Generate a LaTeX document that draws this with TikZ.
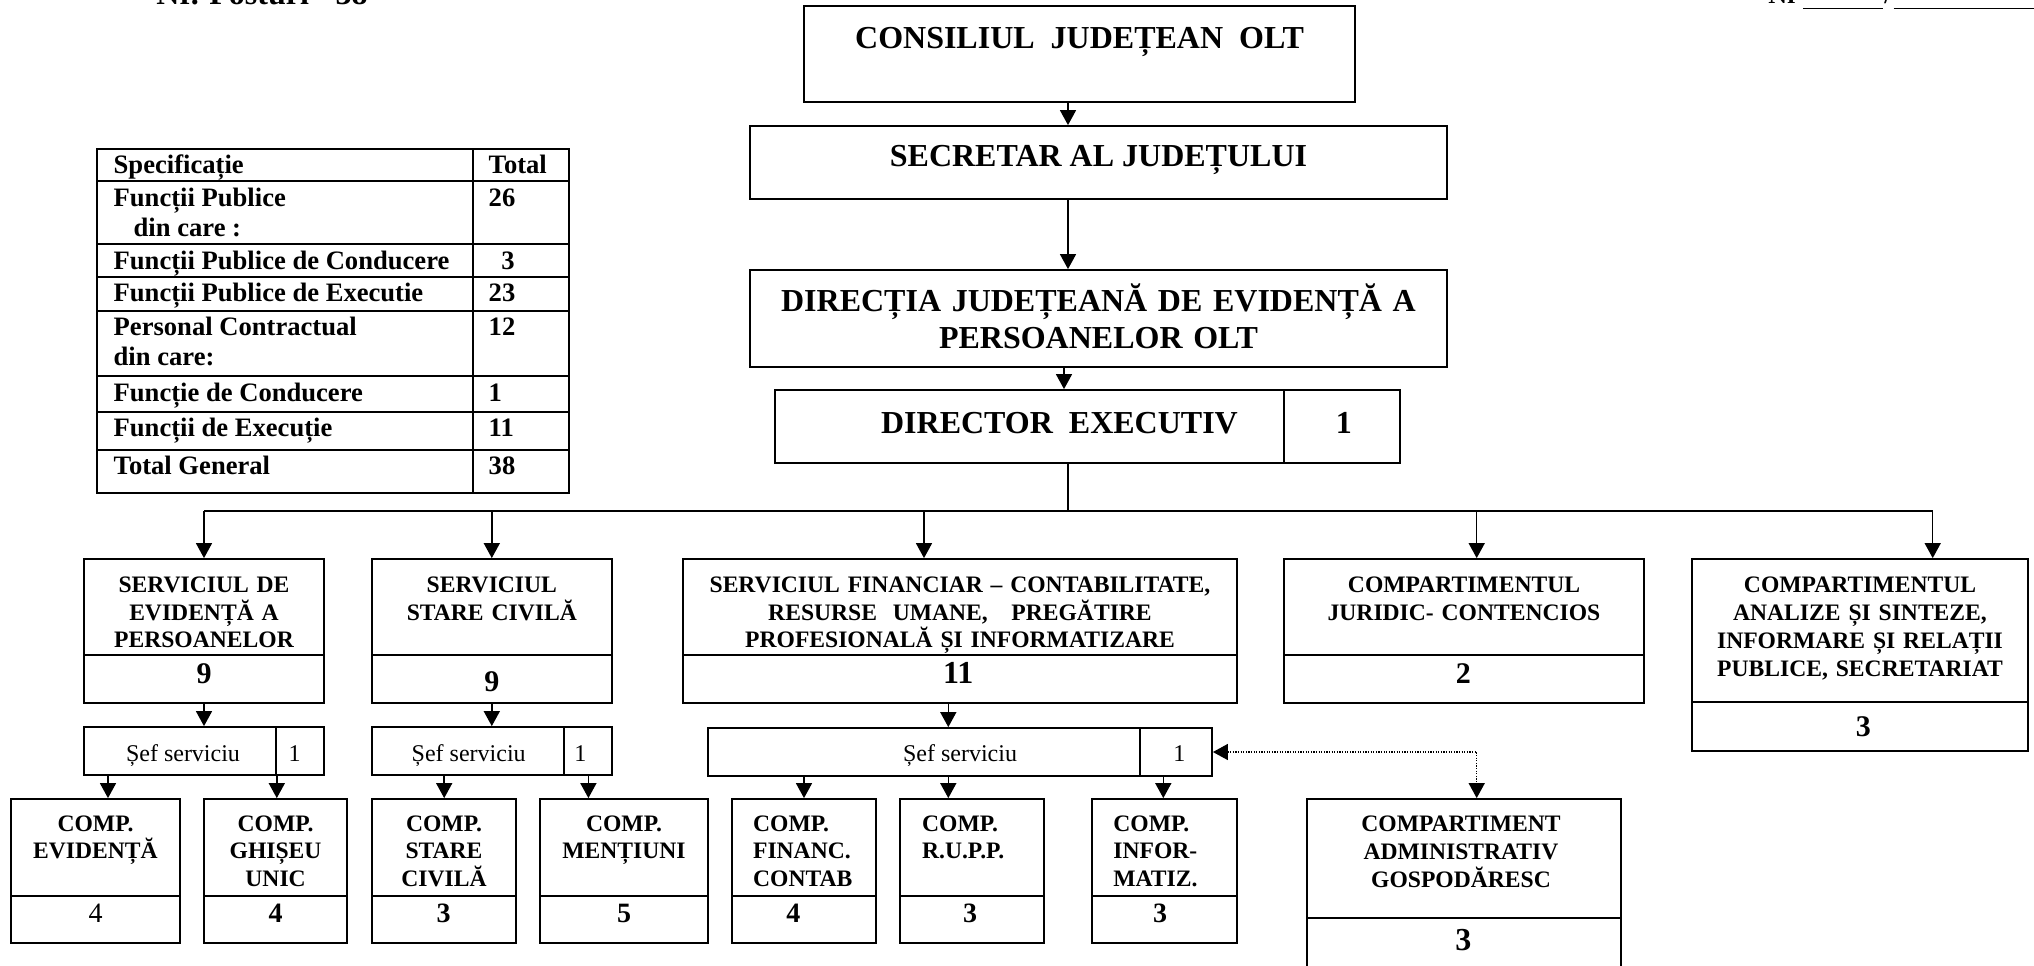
\documentclass[tikz,border=0pt]{standalone}
\usepackage{fontspec}
\setmainfont{Liberation Serif}
\usetikzlibrary{arrows.meta,fit,calc}
\begin{document}
\begin{tikzpicture}[x=0.5pt,y=-0.5pt,
  obox/.style={draw, line width=0.9pt, inner sep=0pt},
  divline/.style={line width=0.9pt},
  cline/.style={line width=0.75pt},
  carrow/.style={line width=0.75pt, -{Triangle[length=7.5pt,width=8pt]}},
  dotarrow/.style={line width=0.7pt, dash pattern=on 0.6pt off 0.7pt,
     {Triangle[length=7.5pt,width=8pt]}-{Triangle[length=7.5pt,width=8pt]}},
  bigt/.style={font=\fontsize{16}{18.3}\selectfont\bfseries, inner sep=0pt, anchor=base},
  midt/.style={font=\fontsize{11.8}{13.75}\selectfont\bfseries, inner sep=0pt, anchor=base, align=center},
  leftt/.style={font=\fontsize{11.8}{13.75}\selectfont\bfseries, inner sep=0pt, anchor=base west, align=left},
  numt/.style={font=\fontsize{15}{17}\selectfont\bfseries, inner sep=0pt, anchor=base},
  cnumt/.style={font=\fontsize{14}{16}\selectfont\bfseries, inner sep=0pt, anchor=base},
  seft/.style={font=\fontsize{12}{14}\selectfont, inner sep=0pt, anchor=base},
  tabt/.style={font=\fontsize{13.3}{15}\selectfont\bfseries, inner sep=0pt, anchor=base west},
]
\useasboundingbox (0,0) rectangle (2034,965);
\clip (0,0) rectangle (2034,965);

% header texts (cut off at top, as in the reference)
\node[bigt, anchor=base west] (hdr) at (156,4) {Nr. Posturi - 38};
\node[font=\fontsize{13}{15}\selectfont\bfseries, inner sep=0pt, anchor=base west] (nr) at (1768,3) {Nr};
\node[font=\fontsize{13}{15}\selectfont\bfseries, inner sep=0pt, anchor=base] (slash) at (1888,3) {/};
\draw[line width=0.8pt] (1803,8.3) -- (1883,8.3);
\draw[line width=0.8pt] (1893.6,8.3) -- (2040,8.3);

% ---------- table ----------
\node[obox, fit={(97.3,149)(569,493.3)}] (tbl) {};
\draw[divline] (473.3,149) -- (473.3,493.3);
\foreach \yy in {180.7,244.3,276.7,310.7,376,411.7,450}
  \draw[divline] (97.3,\yy) -- (569,\yy);
\node[tabt] (t1) at (113.3,173.3) {Specificație};
\node[tabt] (t2) at (113.3,206) {Funcții Publice};
\node[tabt] (t3) at (133.3,236) {din care :};
\node[tabt] (t4) at (113.3,269.3) {Funcții Publice de Conducere};
\node[tabt] (t5) at (113.3,301.7) {Funcții Publice de Executie};
\node[tabt] (t6) at (113.3,335) {Personal Contractual};
\node[tabt] (t7) at (113.3,365) {din care:};
\node[tabt] (t8) at (113.3,401) {Funcție de Conducere};
\node[tabt] (t9) at (113.3,436.7) {Funcții de Execuție};
\node[tabt] (t10) at (113.3,474.3) {Total General};
\node[tabt] (n1) at (488.3,173.3) {Total};
\node[tabt] (n2) at (488.3,206) {26};
\node[tabt] (n4) at (501,269.3) {3};
\node[tabt] (n5) at (488.3,301.7) {23};
\node[tabt] (n6) at (488.3,335) {12};
\node[tabt] (n8) at (488.3,401) {1};
\node[tabt] (n9) at (488.3,436.7) {11};
\node[tabt] (n10) at (488.3,474.3) {38};

% ---------- top chain ----------
\node[obox, fit={(804,6)(1355,101.7)}] (cons) {};
\node[bigt] (consT) at (1079.5,48.3) {CONSILIUL\ \ JUDEȚEAN\ \ OLT};
\node[obox, fit={(750,126)(1447,199)}] (sec) {};
\node[bigt] (secT) at (1098.5,166.7) {SECRETAR AL JUDEȚULUI};
\node[obox, fit={(750,270)(1447,367)}] (dir) {};
\node[bigt, text width=340pt, align=center] (dirT) at (1098.5,311.7) {DIRECȚIA JUDEȚEANĂ DE EVIDENȚĂ A\\PERSOANELOR OLT};
\node[obox, fit={(775,390)(1400,463)}] (direx) {};
\draw[divline] (1284,390) -- (1284,463);
\node[bigt] (direxT) at (1059.5,433.3) {DIRECTOR\ \ EXECUTIV};
\node[bigt] (direxN) at (1343.8,433.3) {1};

\draw[carrow] (cons.south -| 1068,0) -- (sec.north -| 1068,0);
\draw[carrow] (sec.south -| 1068,0) -- (dir.north -| 1068,0);
\draw[carrow] (dir.south -| 1064,0) -- (direx.north -| 1064,0);

% ---------- level 2 ----------
\node[obox, fit={(84,559)(324,703)}] (sde) {};
\draw[divline] (84,655) -- (324,655);
\node[midt, text width=118pt] (sdeT) at (204,592.7) {SERVICIUL DE\\EVIDENȚĂ A\\PERSOANELOR};
\node[numt] (sdeN) at (204,683.3) {9};

\node[obox, fit={(372,559)(611.6,703)}] (ssc) {};
\draw[divline] (372,655) -- (611.6,655);
\node[midt, text width=118pt] (sscT) at (491.8,592.7) {SERVICIUL\\STARE CIVILĂ};
\node[numt] (sscN) at (491.8,691.7) {9};

\node[obox, fit={(683.3,559)(1236.7,703)}] (fin) {};
\draw[divline] (683.3,655) -- (1236.7,655);
\node[midt, text width=275pt] (finT) at (960,592.7) {SERVICIUL FINANCIAR -- CONTABILITATE,\\RESURSE\ \ UMANE,\ \ \ PREGĂTIRE\\PROFESIONALĂ ȘI INFORMATIZARE};
\node[numt, font=\fontsize{16}{18}\selectfont\bfseries] (finN) at (958.3,683.3) {11};

\node[obox, fit={(1284,559)(1644,703)}] (jur) {};
\draw[divline] (1284,655) -- (1644,655);
\node[midt, text width=178pt] (jurT) at (1464,592.7) {COMPARTIMENTUL\\JURIDIC- CONTENCIOS};
\node[numt] (jurN) at (1463.3,683.3) {2};

\node[obox, fit={(1691.7,559)(2028.3,750.7)}] (ana) {};
\draw[divline] (1691.7,702.3) -- (2028.3,702.3);
\node[midt, text width=166pt, font=\fontsize{11.8}{13.9}\selectfont\bfseries] (anaT) at (1860,592.7) {COMPARTIMENTUL\\ANALIZE ȘI SINTEZE,\\INFORMARE ȘI RELAȚII\\PUBLICE, SECRETARIAT};
\node[numt] (anaN) at (1863.3,736.7) {3};

\coordinate (busL) at (204,511);
\coordinate (busR) at (1932.7,511);
\coordinate (busM) at (1068,511);
\coordinate (busF) at (924,511);
\coordinate (busJ) at (1476.7,511);
\draw[cline] (direx.south -| busM) -- (busM);
\draw[cline] (busL) -- (busR);
\draw[carrow] (busL) -- (sde.north -| busL);
\draw[carrow] (ssc.north |- busL) -- (ssc.north);
\draw[carrow] (busF) -- (fin.north -| busF);
\draw[carrow] (busJ) -- (jur.north -| busJ);
\draw[carrow] (busR) -- (ana.north -| busR);

% ---------- sef serviciu ----------
\node[obox, fit={(84,727)(324,775)}] (sef1) {};
\draw[divline] (276,727) -- (276,775);
\node[seft] (sef1T) at (183,761) {Șef serviciu};
\node[seft] (sef1N) at (294.6,761) {1};

\node[obox, fit={(372,727)(611.6,775)}] (sef2) {};
\draw[divline] (563.8,727) -- (563.8,775);
\node[seft] (sef2T) at (468.7,761) {Șef serviciu};
\node[seft] (sef2N) at (580.4,761) {1};

\node[obox, fit={(708.3,728)(1212,776)}] (sef3) {};
\draw[divline] (1140,728) -- (1140,776);
\node[seft] (sef3T) at (960,761) {Șef serviciu};
\node[seft] (sef3N) at (1179.3,761) {1};

\draw[carrow] (sde.south) -- (sef1.north);
\draw[carrow] (ssc.south) -- (sef2.north);
\draw[carrow] (fin.south -| 948.3,0) -- (sef3.north -| 948.3,0);

% ---------- compartments ----------
\node[obox, fit={(11.2,799)(179.9,943.3)}] (c1) {};
\draw[divline] (11.2,895.7) -- (179.9,895.7);
\node[midt, text width=82pt] (c1T) at (95.5,831) {COMP.\\EVIDENȚĂ};
\node[cnumt, font=\fontsize{14}{16}\selectfont] (c1N) at (95.5,922.5) {4};

\node[obox, fit={(204,799)(347.3,943.3)}] (c2) {};
\draw[divline] (204,895.7) -- (347.3,895.7);
\node[midt, text width=70pt] (c2T) at (275.6,831) {COMP.\\GHIȘEU\\UNIC};
\node[cnumt] (c2N) at (275.5,922.5) {4};

\node[obox, fit={(372,799)(516.1,943.3)}] (c3) {};
\draw[divline] (372,895.7) -- (516.1,895.7);
\node[midt, text width=70pt] (c3T) at (444,831) {COMP.\\STARE\\CIVILĂ};
\node[cnumt] (c3N) at (443.5,922.5) {3};

\node[obox, fit={(540.2,799)(708.3,943.3)}] (c4) {};
\draw[divline] (540.2,895.7) -- (708.3,895.7);
\node[midt, text width=82pt] (c4T) at (624,831) {COMP.\\MENȚIUNI};
\node[cnumt] (c4N) at (624,922.5) {5};

\node[obox, fit={(731.7,799)(875.7,943.3)}] (c5) {};
\draw[divline] (731.7,895.7) -- (875.7,895.7);
\node[leftt, text width=60pt] (c5T) at (752.7,831) {COMP.\\FINANC.\\CONTAB};
\node[cnumt] (c5N) at (793.3,922.5) {4};

\node[obox, fit={(900,799)(1044.3,943.3)}] (c6) {};
\draw[divline] (900,895.7) -- (1044.3,895.7);
\node[leftt, text width=60pt] (c6T) at (921.7,831) {COMP.\\R.U.P.P.};
\node[cnumt] (c6N) at (970,922.5) {3};

\node[obox, fit={(1091.7,799)(1236.7,943.3)}] (c7) {};
\draw[divline] (1091.7,895.7) -- (1236.7,895.7);
\node[leftt, text width=60pt] (c7T) at (1113,831) {COMP.\\INFOR-\\MATIZ.};
\node[cnumt] (c7N) at (1160,922.5) {3};

\node[obox, fit={(1307.3,799)(1620.7,990)}] (adm) {};
\draw[divline] (1307.3,918.3) -- (1620.7,918.3);
\node[midt, text width=150pt, font=\fontsize{11.8}{14.15}\selectfont\bfseries] (admT) at (1461,831.3) {COMPARTIMENT\\ADMINISTRATIV\\GOSPODĂRESC};
\node[numt, font=\fontsize{16}{18}\selectfont\bfseries] (admN) at (1463.3,950) {3};

\draw[carrow] (sef1.south -| 108,0) -- (c1.north -| 108,0);
\draw[carrow] (sef1.south -| 276.8,0) -- (c2.north -| 276.8,0);
\draw[carrow] (sef2.south -| 444.2,0) -- (c3.north -| 444.2,0);
\draw[carrow] (sef2.south -| 588.4,0) -- (c4.north -| 588.4,0);
\draw[carrow] (sef3.south -| 804,0) -- (c5.north -| 804,0);
\draw[carrow] (sef3.south -| 948.3,0) -- (c6.north -| 948.3,0);
\draw[carrow] (sef3.south -| 1163.3,0) -- (c7.north -| 1163.3,0);

% dotted link
\coordinate (dotc) at (1476.7,752);
\draw[dotarrow] (sef3.east) -- (dotc) -- (dotc |- adm.north);
\end{tikzpicture}
\end{document}
